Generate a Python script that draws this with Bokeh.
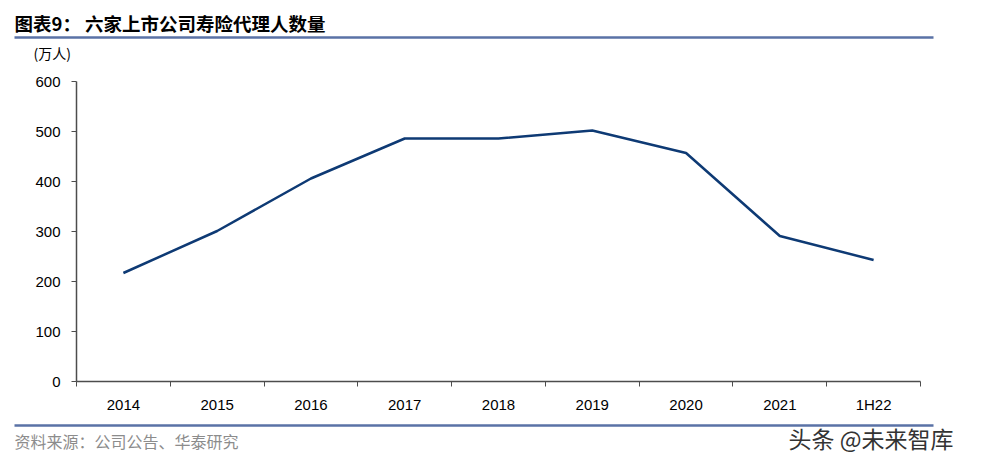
from bokeh.plotting import figure
from bokeh.layouts import column
from bokeh.models import Range1d, FixedTicker, Label, ColumnDataSource
from bokeh.embed import file_html
from bokeh.resources import INLINE

categories = ["2014", "2015", "2016", "2017", "2018", "2019", "2020", "2021", "1H22"]
agents = [217, 301, 406, 486, 486, 502, 457, 291, 243]
y_ticks = [0, 100, 200, 300, 400, 500, 600]

title_text = "图表9：  六家上市公司寿险代理人数量"
unit_text = "(万人)"
source_text = "资料来源：公司公告、华泰研究"
watermark_text = "头条 @未来智库"

W = 968
RULE = "#5a72a6"


def blank(h):
    f = figure(width=W, height=h, output_backend="svg", toolbar_location=None,
               x_range=Range1d(0, W), y_range=Range1d(h, 0),
               x_axis_location=None, y_axis_location=None,
               min_border=0, min_border_left=0, min_border_right=0,
               min_border_top=0, min_border_bottom=0)
    f.outline_line_color = None
    f.xgrid.grid_line_color = None
    f.ygrid.grid_line_color = None
    f.frame_align = False
    return f

# header: page y 0..70
HH = 70
hdr = blank(HH)
hdr.add_layout(Label(x=14, y=22, text=title_text,
                     text_font="Noto Sans CJK SC", text_font_style="bold", text_font_size="18.5px",
                     text_color="#000000", text_baseline="middle", text_align="left"))
hdr.line(x=[14, 933], y=[37, 37], line_color=RULE, line_width=2.5)
hdr.add_layout(Label(x=33, y=52, text=unit_text,
                     text_font="Noto Sans CJK SC", text_font_size="14px",
                     text_color="#000000", text_baseline="middle", text_align="left"))

# main chart: page y 70..415, frame 81..383, x 76..920
MH = 345
p = figure(width=W, height=MH, output_backend="svg", toolbar_location=None,
           x_range=Range1d(0, len(categories)), y_range=Range1d(0, 600),
           min_border_left=76, min_border_right=W - 920, min_border_top=11,
           min_border_bottom=MH - 11 - 302)
p.outline_line_color = None
p.xgrid.grid_line_color = None
p.ygrid.grid_line_color = None
p.frame_align = False

xs = [i + 0.5 for i in range(len(categories))]
src = ColumnDataSource(dict(x=xs, y=agents))
p.line("x", "y", source=src, line_color="#0e3a74", line_width=2.5)

axis_color = "#4d4d4d"
xa = p.xaxis[0]
xa.ticker = FixedTicker(ticks=xs, minor_ticks=list(range(len(categories) + 1)))
xa.major_label_overrides = {x: c for x, c in zip(xs, categories)}
xa.major_tick_out = 0
xa.major_tick_in = 0
xa.minor_tick_out = 5
xa.minor_tick_in = 0
xa.minor_tick_line_color = axis_color
xa.axis_line_color = axis_color
xa.axis_line_width = 1.5
xa.major_label_standoff = 9
xa.major_label_text_font = "Liberation Sans"
xa.major_label_text_font_size = "15px"
xa.major_label_text_color = "#000000"

ya = p.yaxis[0]
ya.ticker = FixedTicker(ticks=y_ticks, minor_ticks=[])
ya.major_tick_out = 5
ya.major_tick_in = 0
ya.major_tick_line_color = axis_color
ya.axis_line_color = axis_color
ya.axis_line_width = 1.5
ya.major_label_standoff = 11
ya.major_label_text_font = "Liberation Sans"
ya.major_label_text_font_size = "15px"
ya.major_label_text_color = "#000000"

# footer: page y 415..465
FH = 50
ftr = blank(FH)
ftr.line(x=[14, 933], y=[10, 10], line_color=RULE, line_width=2.5)
ftr.add_layout(Label(x=14, y=25, text=source_text,
                     text_font="Noto Sans CJK SC", text_font_size="16px",
                     text_color="#8c8c8c", text_baseline="middle", text_align="left"))
ftr.add_layout(Label(x=788, y=22, text=watermark_text,
                     text_font="Noto Sans CJK SC", text_font_size="23px",
                     text_color="#333333", text_baseline="middle", text_align="left"))

layout = column(hdr, p, ftr, spacing=0)
open("out.html", "w").write(file_html(layout, INLINE))
